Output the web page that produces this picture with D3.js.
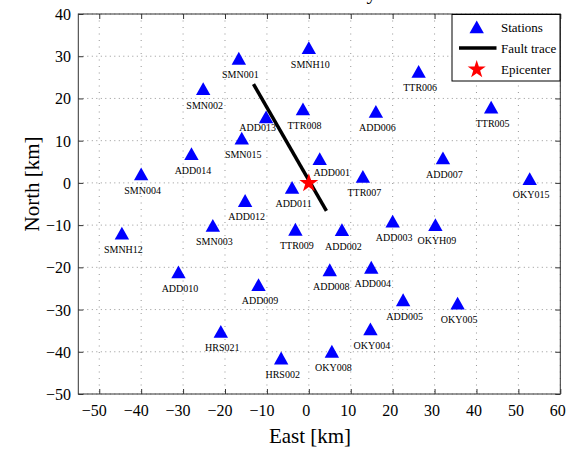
<!DOCTYPE html>
<html>
<head>
<meta charset="utf-8">
<script src="https://cdn.jsdelivr.net/npm/d3@7/dist/d3.min.js"></script>
<style>
  html, body { margin: 0; padding: 0; background: #fff; }
  svg { display: block; }
  text { font-family: "Liberation Serif", "Times New Roman", Times, serif; fill: #000; }
</style>
</head>
<body>
<svg id="chart" width="569" height="449"></svg>
<script>
// Seismic station network around the epicenter (km east / north)
const stationNames = [
  "SMN001", "SMN002", "ADD013", "SMN015", "ADD014", "SMNH10", "TTR006", "TTR008",
  "ADD006", "TTR005", "ADD001", "ADD007", "SMN004", "ADD011", "ADD012", "SMN003",
  "SMNH12", "TTR009", "ADD010", "ADD009", "TTR007", "OKY015", "ADD002", "ADD003",
  "OKYH09", "ADD008", "ADD004", "ADD005", "OKY005", "OKY004", "OKY008", "HRS021",
  "HRS002"
];
const stationEast = [
  -16.7, -25.2, -10.2, -16.0, -28.0, 0.0, 26.2, -1.4,
  16.0, 43.5, 2.6, 32.0, -40.0, -4.0, -15.2, -22.9,
  -44.6, -3.2, -31.1, -12.0, 12.9, 52.7, 7.9, 20.0,
  30.2, 5.0, 14.9, 22.5, 35.5, 14.7, 5.5, -21.0,
  -6.6
];
const stationNorth = [
  29.5, 22.3, 15.6, 10.6, 6.9, 32.0, 26.4, 17.5,
  16.9, 17.9, 5.7, 5.9, 2.1, -1.1, -4.2, -10.1,
  -11.9, -11.0, -21.1, -24.1, 1.5, 1.0, -11.1, -9.1,
  -9.9, -20.6, -20.0, -27.7, -28.5, -34.6, -39.9, -35.2,
  -41.5
];

// Fault trace end points and epicenter
const faultEast = [-13.2, 4.2];
const faultNorth = [23.4, -6.6];
const epicenterEast = [0];
const epicenterNorth = [0];

// Axis ticks
const xTicks = [-50, -40, -30, -20, -10, 0, 10, 20, 30, 40, 50, 60];
const yTicks = [-50, -40, -30, -20, -10, 0, 10, 20, 30, 40];

const legendItems = ["Stations", "Fault trace", "Epicenter"];

// ---------------------------------------------------------------
const svg = d3.select("#chart");
const plotLeft = 78.3, plotRight = 560.3, plotTop = 14, plotBottom = 394;

const x = d3.scaleLinear().domain([-55, 60]).range([plotLeft, plotRight]);
const y = d3.scaleLinear().domain([-50, 40]).range([plotBottom, plotTop]);

// dotted grid
const grid = svg.append("g").attr("class", "grid");
grid.selectAll("line.gx").data(xTicks).join("line")
  .attr("x1", d => x(d)).attr("x2", d => x(d))
  .attr("y1", plotTop).attr("y2", plotBottom)
  .attr("stroke", "#8a8a8a").attr("stroke-width", 0.9)
  .attr("stroke-dasharray", "1,5.5");
grid.append("g").selectAll("line").data(yTicks).join("line")
  .attr("x1", plotLeft).attr("x2", plotRight)
  .attr("y1", d => y(d)).attr("y2", d => y(d))
  .attr("stroke", "#8a8a8a").attr("stroke-width", 0.9)
  .attr("stroke-dasharray", "1,3.5");

// axes with inward ticks on all four sides
const fmt = d3.format("");
const axB = svg.append("g").attr("transform", `translate(0,${plotBottom})`)
  .call(d3.axisBottom(x).tickValues(xTicks).tickSizeInner(-5).tickSizeOuter(0).tickPadding(0).tickFormat(fmt));
axB.selectAll("text")
  .attr("y", 21.5).attr("dy", 0)
  .attr("dx", d => d < 0 ? -5.5 : -3)
  .style("font-size", "16px");
const axT = svg.append("g").attr("transform", `translate(0,${plotTop})`)
  .call(d3.axisTop(x).tickValues(xTicks).tickSizeInner(-5).tickSizeOuter(0).tickFormat(""));
const axL = svg.append("g").attr("transform", `translate(${plotLeft},0)`)
  .call(d3.axisLeft(y).tickValues(yTicks).tickSizeInner(-5).tickSizeOuter(0).tickPadding(0).tickFormat(fmt));
axL.selectAll("text")
  .attr("x", -7.3).attr("dy", "0.34em")
  .style("font-size", "16px");
const axR = svg.append("g").attr("transform", `translate(${plotRight},0)`)
  .call(d3.axisRight(y).tickValues(yTicks).tickSizeInner(-5).tickSizeOuter(0).tickFormat(""));
[axB, axT, axL, axR].forEach(a => {
  a.select(".domain").remove();
  a.selectAll(".tick line").attr("stroke", "#333").attr("stroke-width", 1);
  a.selectAll("text").attr("fill", "#000").style("font-family", '"Liberation Serif", "Times New Roman", serif');
});

// frame
svg.append("rect")
  .attr("x", plotLeft).attr("y", plotTop)
  .attr("width", plotRight - plotLeft).attr("height", plotBottom - plotTop)
  .attr("fill", "none").attr("stroke", "#333").attr("stroke-width", 1);

// axis labels and title
svg.append("text")
  .attr("x", 310).attr("y", 443)
  .attr("text-anchor", "middle")
  .style("font-size", "21px")
  .text("East [km]");
svg.append("text")
  .attr("transform", "translate(39,184) rotate(-90)")
  .attr("text-anchor", "middle")
  .style("font-size", "21px")
  .text("North [km]");
svg.append("text")
  .attr("x", 377).attr("y", -1.3)
  .attr("text-anchor", "end")
  .style("font-size", "21px")
  .text("Station Geometry");

// marker shapes
const triPath = "M0,-6.5L7.2,6.3L-7.2,6.3Z";
function starPath(R) {
  const r = R * 0.382, pts = [];
  for (let i = 0; i < 10; i++) {
    const a = -Math.PI / 2 + i * Math.PI / 5;
    const rad = i % 2 === 0 ? R : r;
    pts.push([rad * Math.cos(a), rad * Math.sin(a)]);
  }
  return "M" + pts.map(p => p[0].toFixed(2) + "," + p[1].toFixed(2)).join("L") + "Z";
}

// fault trace
const faultLine = d3.line().x(d => x(d[0])).y(d => y(d[1]));
svg.append("path")
  .datum(d3.zip(faultEast, faultNorth))
  .attr("d", faultLine)
  .attr("fill", "none").attr("stroke", "#000").attr("stroke-width", 3.5);

// stations
const stations = stationNames.map((name, i) => ({ name, e: stationEast[i], n: stationNorth[i] }));
svg.append("g").selectAll("path").data(stations).join("path")
  .attr("d", triPath)
  .attr("transform", d => `translate(${x(d.e)},${y(d.n)})`)
  .attr("fill", "#0000ff");

// station labels sit under their marker; two are shifted off the fault trace
const labelNudge = { ADD013: [-10, -5.5], ADD001: [10.5, -3] };
svg.append("g").selectAll("text").data(stations).join("text")
  .attr("x", d => x(d.e) + 1.5 + (labelNudge[d.name] ? labelNudge[d.name][0] : 0))
  .attr("y", d => y(d.n) + 19.8 + (labelNudge[d.name] ? labelNudge[d.name][1] : 0))
  .attr("text-anchor", "middle")
  .style("font-size", "10px")
  .text(d => d.name);

// epicenter
svg.append("g").selectAll("path").data(d3.zip(epicenterEast, epicenterNorth)).join("path")
  .attr("d", starPath(10))
  .attr("transform", d => `translate(${x(d[0])},${y(d[1]) + 0.3})`)
  .attr("fill", "#ff0000");

// legend
const lg = svg.append("g");
lg.append("rect")
  .attr("x", 452).attr("y", 14.5).attr("width", 108).attr("height", 66.5)
  .attr("fill", "#fff").attr("stroke", "#000").attr("stroke-width", 1);
const rowY = [27, 48, 69];
lg.append("path").attr("d", triPath).attr("transform", `translate(476.7,${rowY[0]})`).attr("fill", "#0000ff");
lg.append("line").attr("x1", 459).attr("x2", 496.5).attr("y1", rowY[1]).attr("y2", rowY[1])
  .attr("stroke", "#000").attr("stroke-width", 3.5);
lg.append("path").attr("d", starPath(9.5)).attr("transform", `translate(476.7,${rowY[2] + 0.5})`).attr("fill", "#ff0000");
lg.selectAll("text.item").data(legendItems).join("text")
  .attr("x", 501).attr("y", (d, i) => rowY[i] + 4.6)
  .style("font-size", "13px")
  .text(d => d);
</script>
</body>
</html>
